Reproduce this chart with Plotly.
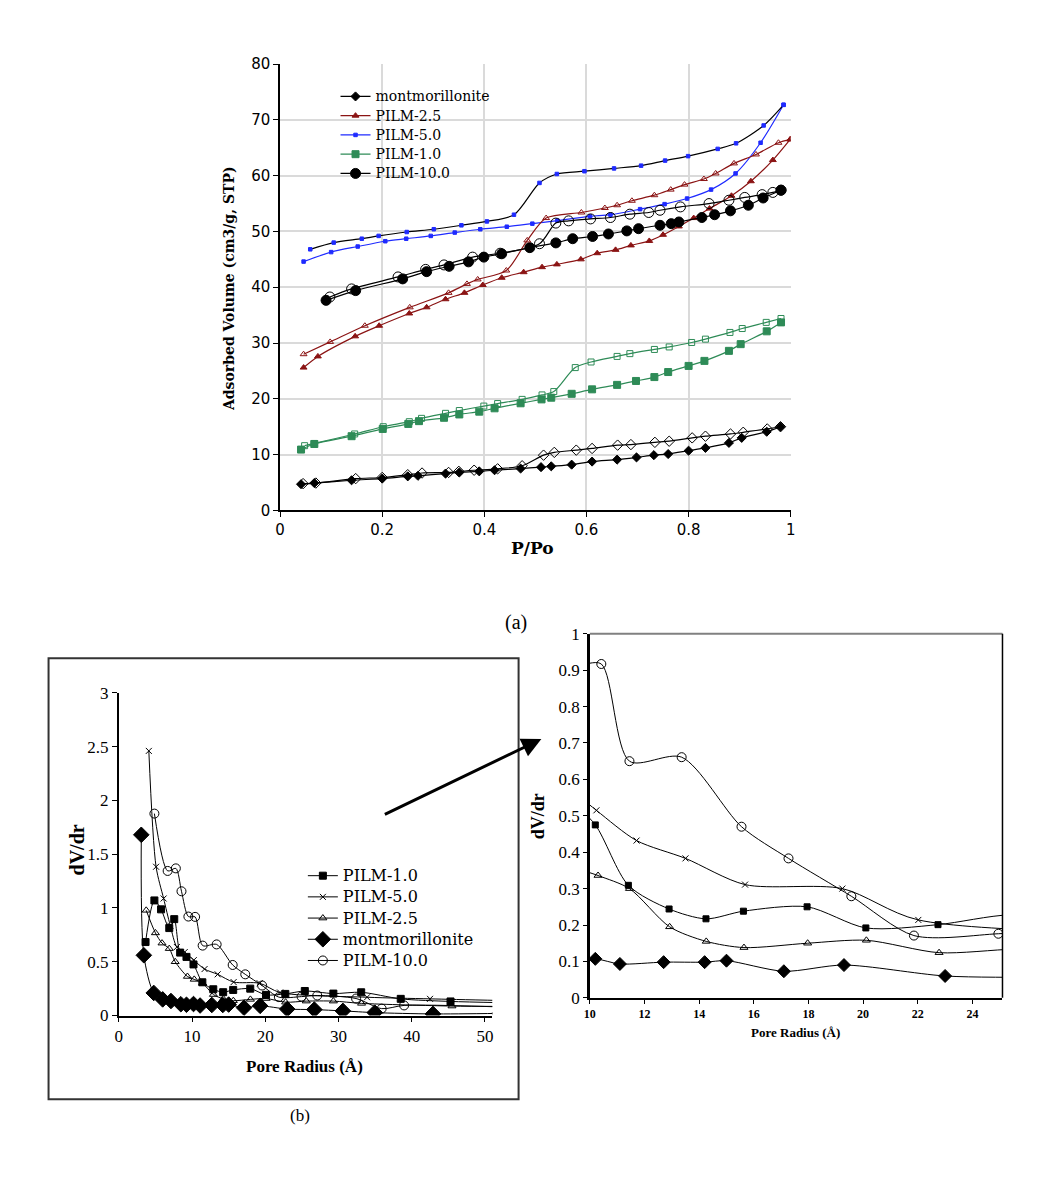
import plotly.graph_objects as go

W, H = 1053, 1180

# ---------- (a) isotherms: P/Po vs adsorbed volume ----------
mont_ads_x = [0.041,0.067,0.14,0.2,0.25,0.27,0.324,0.351,0.39,0.42,0.471,0.511,0.531,0.571,0.611,0.66,0.698,0.732,0.76,0.80,0.833,0.879,0.904,0.953,0.98]
mont_ads_y = [4.7,4.9,5.4,5.7,6.1,6.2,6.6,6.8,7.0,7.2,7.5,7.75,7.9,8.2,8.75,9.1,9.5,9.9,10.1,10.7,11.2,12.1,13.0,14.1,15.0]
mont_des_x = [0.045,0.07,0.148,0.2,0.25,0.278,0.33,0.35,0.38,0.426,0.474,0.516,0.537,0.58,0.611,0.661,0.687,0.734,0.762,0.807,0.833,0.882,0.907,0.954,0.98]
mont_des_y = [4.8,4.9,5.7,5.9,6.4,6.7,6.8,7.0,7.2,7.45,8.0,9.9,10.4,10.8,11.1,11.7,11.8,12.2,12.4,13.0,13.3,13.7,14.0,14.6,15.0]

p25_ads_x = [0.046,0.074,0.147,0.194,0.253,0.287,0.324,0.361,0.397,0.434,0.477,0.513,0.542,0.589,0.621,0.657,0.687,0.723,0.75,0.781,0.81,0.841,0.884,0.922,0.965,0.999]
p25_ads_y = [25.6,27.6,31.2,33.1,35.3,36.4,37.85,39.0,40.4,41.7,42.7,43.6,44.1,45.0,46.1,46.7,47.5,48.3,49.4,50.9,52.4,54.1,56.4,59.0,62.8,66.5]
p25_des_x = [0.046,0.098,0.166,0.254,0.33,0.366,0.387,0.443,0.484,0.521,0.59,0.636,0.66,0.689,0.733,0.765,0.792,0.83,0.853,0.889,0.932,0.976,0.999]
p25_des_y = [28.0,30.2,33.1,36.4,39.0,40.6,41.4,43.0,48.4,52.4,53.4,54.2,54.7,55.5,56.5,57.5,58.4,59.4,60.4,62.2,63.8,65.9,66.5]

p5_ads_x = [0.046,0.1,0.152,0.206,0.247,0.295,0.342,0.392,0.444,0.494,0.543,0.607,0.647,0.705,0.753,0.797,0.844,0.892,0.941,0.986]
p5_ads_y = [44.6,46.3,47.3,48.25,48.7,49.2,49.8,50.4,50.85,51.4,51.95,52.7,53.0,54.0,54.9,55.9,57.5,60.4,65.9,72.7]
p5_des_x = [0.059,0.105,0.16,0.193,0.248,0.301,0.355,0.405,0.458,0.508,0.542,0.596,0.654,0.707,0.754,0.799,0.857,0.893,0.947,0.986]
p5_des_y = [46.8,48.0,48.7,49.2,49.9,50.4,51.1,51.8,53.0,58.7,60.3,60.8,61.3,61.8,62.7,63.5,64.8,65.8,69.0,72.7]

p1_ads_x = [0.041,0.067,0.14,0.201,0.251,0.272,0.321,0.351,0.39,0.42,0.471,0.512,0.531,0.571,0.611,0.66,0.697,0.733,0.76,0.80,0.831,0.879,0.902,0.953,0.981]
p1_ads_y = [10.9,11.9,13.3,14.6,15.5,16.0,16.6,17.2,17.7,18.3,19.2,19.9,20.2,20.9,21.7,22.5,23.2,23.9,24.8,25.9,26.8,28.6,29.8,32.1,33.7]
p1_des_x = [0.048,0.067,0.146,0.202,0.253,0.277,0.324,0.351,0.399,0.426,0.474,0.513,0.536,0.578,0.609,0.66,0.685,0.733,0.762,0.806,0.833,0.881,0.905,0.952,0.981]
p1_des_y = [11.6,12.0,13.7,15.0,15.9,16.5,17.4,17.9,18.7,19.15,19.9,20.7,21.3,25.6,26.6,27.6,28.1,28.85,29.3,30.1,30.7,31.9,32.6,33.7,34.4]

p10_ads_x = [0.09,0.148,0.24,0.287,0.331,0.369,0.399,0.434,0.489,0.54,0.573,0.612,0.643,0.679,0.702,0.744,0.766,0.781,0.826,0.851,0.882,0.917,0.946,0.981]
p10_ads_y = [37.65,39.4,41.5,42.8,43.75,44.55,45.4,46.0,47.1,47.95,48.7,49.1,49.55,50.1,50.5,51.1,51.4,51.7,52.5,53.0,53.7,54.7,56.0,57.4]
p10_des_x = [0.0975,0.14,0.231,0.285,0.321,0.377,0.431,0.508,0.54,0.565,0.608,0.647,0.685,0.722,0.744,0.784,0.84,0.879,0.91,0.944,0.965,0.981]
p10_des_y = [38.25,39.7,41.85,43.2,44.0,45.4,46.1,47.8,51.5,51.9,52.25,52.5,53.1,53.4,53.8,54.4,55.0,55.6,56.1,56.6,57.0,57.4]

# ---------- (b) pore size distributions: radius (Å) vs dV/dr ----------
p1_r = [3.65,4.86,5.77,6.89,7.57,8.38,9.24,10.2,11.41,12.9,14.25,15.62,17.95,20.1,22.74,25.4,29.3,33.1,38.5,45.3,52]
p1_v = [0.683,1.07,0.987,0.813,0.896,0.585,0.545,0.475,0.309,0.244,0.217,0.238,0.25,0.192,0.201,0.228,0.204,0.216,0.155,0.131,0.12]
p5_r = [4.1,5.09,6.12,7.03,7.93,9.0,10.24,11.71,13.5,15.68,19.24,22.02,33.9,42.5,52]
p5_v = [2.46,1.383,1.088,0.835,0.637,0.59,0.515,0.432,0.383,0.311,0.3,0.214,0.17,0.155,0.14]
p25_r = [3.74,5.0,5.9,6.89,7.7,9.37,10.3,11.45,12.92,14.26,15.64,17.97,20.12,22.78,25.6,29.3,33.15,45.5,52]
p25_v = [0.978,0.768,0.673,0.622,0.5,0.363,0.336,0.3,0.195,0.155,0.138,0.15,0.158,0.124,0.134,0.134,0.113,0.088,0.085]
mont_r = [3.07,3.42,4.77,5.99,7.12,8.47,9.24,10.2,11.1,12.7,14.2,15.0,17.1,19.3,23.0,26.7,30.6,34.95,42.9,52]
mont_v = [1.68,0.56,0.21,0.15,0.135,0.105,0.1,0.107,0.093,0.098,0.098,0.102,0.073,0.09,0.06,0.055,0.043,0.027,0.015,0.02]
p10_r = [4.86,6.67,7.79,8.56,9.5,10.42,11.45,13.36,15.55,17.27,19.57,21.86,24.95,27.1,32.4,35.9,38.96,52]
p10_v = [1.877,1.344,1.368,1.155,0.92,0.917,0.65,0.661,0.47,0.383,0.279,0.171,0.176,0.186,0.158,0.064,0.094,0.08]

RED = "#8B1414"
BLUE = "#1F2BFF"
GREEN = "#2E8B57"

fig = go.Figure()

def big(name, size):
    return f'<span style="font-size:{size}px">{name}</span>'

def iso(x, y, name, color, lcolor, symbol, size, show):
    fig.add_trace(go.Scatter(
        x=x, y=y, name=big(name, 14), mode="lines+markers", showlegend=show,
        line=dict(color=lcolor, width=1.2, shape="spline", smoothing=0.8),
        marker=dict(symbol=symbol, size=size, color=color,
                    line=dict(color=color, width=1)),
        xaxis="x", yaxis="y", legend="legend"))

iso(mont_ads_x, mont_ads_y, "montmorillonite", "black", "black", "diamond", 7, True)
iso(p25_ads_x, p25_ads_y, "PILM-2.5", RED, RED, "triangle-up", 6, True)
iso(p5_ads_x, p5_ads_y, "PILM-5.0", BLUE, BLUE, "square", 3.5, True)
iso(p1_ads_x, p1_ads_y, "PILM-1.0", GREEN, GREEN, "square", 7, True)
iso(p10_ads_x, p10_ads_y, "PILM-10.0", "black", "black", "circle", 10, True)
iso(mont_des_x, mont_des_y, "montmorillonite des", "black", "black", "diamond-open", 8, False)
iso(p25_des_x, p25_des_y, "PILM-2.5 des", RED, RED, "triangle-up-open", 6, False)
iso(p5_des_x, p5_des_y, "PILM-5.0 des", BLUE, "black", "square", 3.5, False)
iso(p1_des_x, p1_des_y, "PILM-1.0 des", GREEN, GREEN, "square-open", 6, False)
iso(p10_des_x, p10_des_y, "PILM-10.0 des", "black", "black", "circle-open", 10, False)

psd = [
    (p1_r, p1_v, "PILM-1.0", "square", 7, 6),
    (p5_r, p5_v, "PILM-5.0", "x-thin-open", 6, 6),
    (p25_r, p25_v, "PILM-2.5", "triangle-up-open", 7, 7),
    (mont_r, mont_v, "montmorillonite", "diamond", 12, 10),
    (p10_r, p10_v, "PILM-10.0", "circle-open", 9, 9),
]
for r, v, name, sym, s_left, s_right in psd:
    fig.add_trace(go.Scatter(
        x=r, y=v, name=big(name, 16), mode="lines+markers", showlegend=True,
        line=dict(color="black", width=1, shape="spline", smoothing=0.8),
        marker=dict(symbol=sym, size=s_left, color="black", line=dict(color="black", width=1)),
        xaxis="x2", yaxis="y2", legend="legend2"))
    fig.add_trace(go.Scatter(
        x=r, y=v, name=name, mode="lines+markers", showlegend=False,
        line=dict(color="black", width=1, shape="spline", smoothing=0.8),
        marker=dict(symbol=sym, size=s_right, color="black", line=dict(color="black", width=1)),
        xaxis="x3", yaxis="y3"))

def px(x):
    return x / W

def py(y):
    return 1 - y / H

SANS = "DejaVu Sans"
BOOK = "DejaVu Serif"
TIMES = "Liberation Serif"

fig.update_layout(
    width=W, height=H, margin=dict(l=0, r=0, t=0, b=0),
    paper_bgcolor="white", plot_bgcolor="white",
    xaxis=dict(domain=[px(277), px(793)], range=[0, 1], tickvals=[0, 0.2, 0.4, 0.6, 0.8, 1],
               ticktext=["0", "0.2", "0.4", "0.6", "0.8", "1"],
               showgrid=True, gridcolor="#dadada", gridwidth=1.5, zeroline=False,
               showline=True, linecolor="black", linewidth=1.5, ticks="outside", ticklen=5,
               tickcolor="black", tickfont=dict(family=SANS, size=15, color="black"),
               anchor="y"),
    yaxis=dict(domain=[py(509.6), py(56)], range=[0, 80], dtick=10,
               showgrid=True, gridcolor="#dadada", gridwidth=1.5, zeroline=False,
               showline=True, linecolor="black", linewidth=1.5, ticks="outside", ticklen=5,
               tickcolor="black", tickfont=dict(family=SANS, size=15, color="black"),
               anchor="x"),
    xaxis2=dict(domain=[px(114), px(491.4)], range=[0, 51], tickvals=[0, 10, 20, 30, 40, 50],
                showgrid=False, zeroline=False, showline=True, linecolor="black", linewidth=2,
                ticks="outside", ticklen=4, tickcolor="black",
                tickfont=dict(family=TIMES, size=17, color="black"), anchor="y2"),
    yaxis2=dict(domain=[py(1023), py(695)], range=[0, 3], dtick=0.5,
                showgrid=False, zeroline=False, showline=True, linecolor="black", linewidth=2,
                ticks="outside", ticklen=5, tickcolor="black",
                tickfont=dict(family=TIMES, size=17, color="black"), anchor="x2"),
    xaxis3=dict(domain=[px(590), px(1007)], range=[10, 25.1], tickvals=[10, 12, 14, 16, 18, 20, 22, 24],
                showgrid=False, zeroline=False, showline=True, linecolor="black", linewidth=1.5,
                ticks="outside", ticklen=4, tickcolor="black",
                tickfont=dict(family=TIMES, size=12, color="black", weight="bold"), anchor="y3"),
    yaxis3=dict(domain=[py(1005), py(635)], range=[0, 1], dtick=0.1,
                showgrid=False, zeroline=False, showline=True, linecolor="black", linewidth=2.5,
                ticks="outside", ticklen=4, tickcolor="black",
                tickfont=dict(family=TIMES, size=17, color="black"), anchor="x3"),
    legend=dict(x=px(333), y=py(74), xanchor="left", yanchor="top",
                bgcolor="rgba(0,0,0,0)", borderwidth=0, itemwidth=30,
                font=dict(family=BOOK, size=12.5, color="black"), tracegroupgap=0),
    legend2=dict(x=px(300), y=py(865), xanchor="left", yanchor="top",
                 bgcolor="rgba(0,0,0,0)", borderwidth=0, itemwidth=30,
                 font=dict(family=BOOK, size=14, color="black"), tracegroupgap=0),
    showlegend=True,
)

fig.add_shape(type="rect", xref="paper", yref="paper",
              x0=px(43), x1=px(518), y0=py(1108), y1=py(660),
              line=dict(color="#333333", width=2), fillcolor="rgba(0,0,0,0)", layer="below")
fig.add_shape(type="line", xref="x3 domain", yref="y3 domain", x0=0, x1=1, y0=1, y1=1,
              line=dict(color="#808080", width=2))
fig.add_shape(type="line", xref="x3 domain", yref="y3 domain", x0=1, x1=1, y0=0, y1=1,
              line=dict(color="black", width=1.5))

def note(text, x, y, size, family, bold=False, angle=0):
    fig.add_annotation(text=text, x=px(x), y=py(y), xref="paper", yref="paper",
                       showarrow=False, textangle=angle, xanchor="center", yanchor="middle",
                       font=dict(family=family, size=size, color="black",
                                 weight="bold" if bold else "normal"))

note("Adsorbed Volume (cm3/g, STP)", 226, 284, 14, BOOK, True, -90)
note("P/Po", 532, 548, 17, BOOK, True)
note("(a)", 515, 624, 20, TIMES)
note("dV/dr", 72, 855, 20, TIMES, True, -90)
note("Pore Radius (Å)", 302, 1075, 17, TIMES, True)
note("dV/dr", 537, 820, 18, TIMES, True, -90)
note("Pore Radius (Å)", 798, 1040, 13, TIMES, True)
note("(b)", 297, 1125, 17, TIMES)

fig.add_annotation(x=px(541), y=py(742), xref="paper", yref="paper", text="",
                   showarrow=True, ax=383 - 541, ay=818 - 742, axref="pixel", ayref="pixel",
                   arrowhead=2, arrowsize=1.3, arrowwidth=3, arrowcolor="black")

fig.write_html("out.html")
